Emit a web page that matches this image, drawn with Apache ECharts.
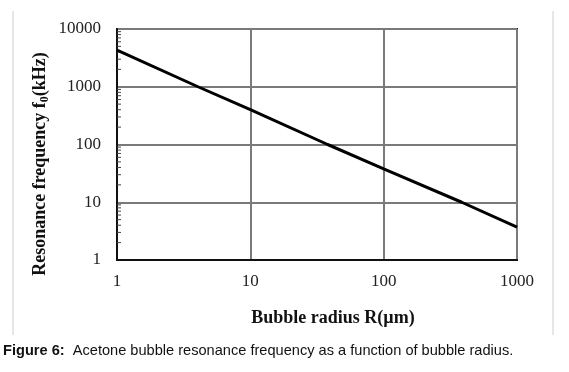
<!DOCTYPE html>
<html>
<head>
<meta charset="utf-8">
<script src="https://cdn.jsdelivr.net/npm/echarts@6/dist/echarts.min.js"></script>
<style>
  html, body { margin: 0; padding: 0; background: #fff; }
  #chart { width: 569px; height: 372px; }
</style>
</head>
<body>
<div id="chart"></div>
<script>
// bubble radius (um) and resonance frequency (kHz)
const radius = [1, 4.05, 10, 38, 100, 385, 1000];
const freq = [4300, 1000, 400, 100, 38, 10, 3.7];

// minor tick positions on the frequency axis
const minorY = [];
[1, 10, 100, 1000].forEach(d => {
  for (let m = 2; m <= 9; m++) minorY.push(m * d);
});

const chart = echarts.init(document.getElementById('chart'));

const serif = '"Liberation Serif", "DejaVu Serif", serif';
const plain = v => String(Math.round(v));

chart.setOption({
  animation: false,
  grid: {
    left: 117, right: 52, top: 29, bottom: 112,
    show: true, borderColor: '#1a1a1a', borderWidth: 2
  },
  xAxis: {
    type: 'log',
    logBase: 10,
    min: 1,
    max: 1000,
    axisLine: { lineStyle: { color: '#111', width: 2 } },
    axisTick: { show: false },
    axisLabel: { color: '#222', fontFamily: serif, fontSize: 17, margin: 13, formatter: plain },
    splitLine: { show: true, lineStyle: { color: '#7a7a7a', width: 2 } }
  },
  yAxis: {
    type: 'log',
    logBase: 10,
    min: 1,
    max: 10000,
    axisLine: { show: true, lineStyle: { color: '#111', width: 2 } },
    axisTick: { show: false },
    axisLabel: { color: '#222', fontFamily: serif, fontSize: 17, margin: 16, formatter: plain },
    splitLine: { show: true, lineStyle: { color: '#7a7a7a', width: 2 } }
  },
  series: [
    {
      type: 'line',
      data: radius.map((r, i) => [r, freq[i]]),
      symbol: 'none',
      lineStyle: { color: '#000', width: 3 },
      z: 5
    },
    {
      type: 'custom',
      data: minorY.map(v => [1, v]),
      renderItem: (params, api) => {
        const p = api.coord([api.value(0), api.value(1)]);
        return {
          type: 'line',
          shape: { x1: p[0], y1: p[1], x2: p[0] + 4, y2: p[1] },
          style: { stroke: '#444', lineWidth: 1 }
        };
      },
      silent: true,
      z: 4
    }
  ],
  graphic: [
    {
      type: 'line',
      shape: { x1: 13, y1: 11, x2: 13, y2: 335 },
      style: { stroke: '#e6e6e6', lineWidth: 2 }
    },
    {
      type: 'line',
      shape: { x1: 553, y1: 11, x2: 553, y2: 335 },
      style: { stroke: '#e6e6e6', lineWidth: 2 }
    },
    {
      type: 'text',
      x: 40, y: 164,
      rotation: Math.PI / 2,
      style: {
        text: '{n|Resonance frequency f}{s|0}{n|(kHz)}',
        align: 'center', verticalAlign: 'middle',
        rich: {
          n: { fontFamily: serif, fontWeight: 'bold', fontSize: 18, fill: '#111' },
          s: { fontFamily: serif, fontWeight: 'bold', fontSize: 12, fill: '#111', padding: [9, 0, 0, 0] }
        }
      }
    },
    {
      type: 'text',
      x: 333, y: 318,
      style: {
        text: 'Bubble radius R(\u00b5m)',
        align: 'center', verticalAlign: 'middle',
        fontFamily: serif, fontWeight: 'bold', fontSize: 18, fill: '#111'
      }
    },
    {
      type: 'text',
      x: 3, y: 351,
      style: {
        text: '{b|Figure 6:}{r|  Acetone bubble resonance frequency as a function of bubble radius.}',
        verticalAlign: 'middle',
        rich: {
          b: { fontFamily: '"Liberation Sans", Arial, sans-serif', fontWeight: 'bold', fontSize: 14.6, fill: '#111' },
          r: { fontFamily: '"Liberation Sans", Arial, sans-serif', fontSize: 14.6, fill: '#111' }
        }
      }
    }
  ]
});
</script>
</body>
</html>
